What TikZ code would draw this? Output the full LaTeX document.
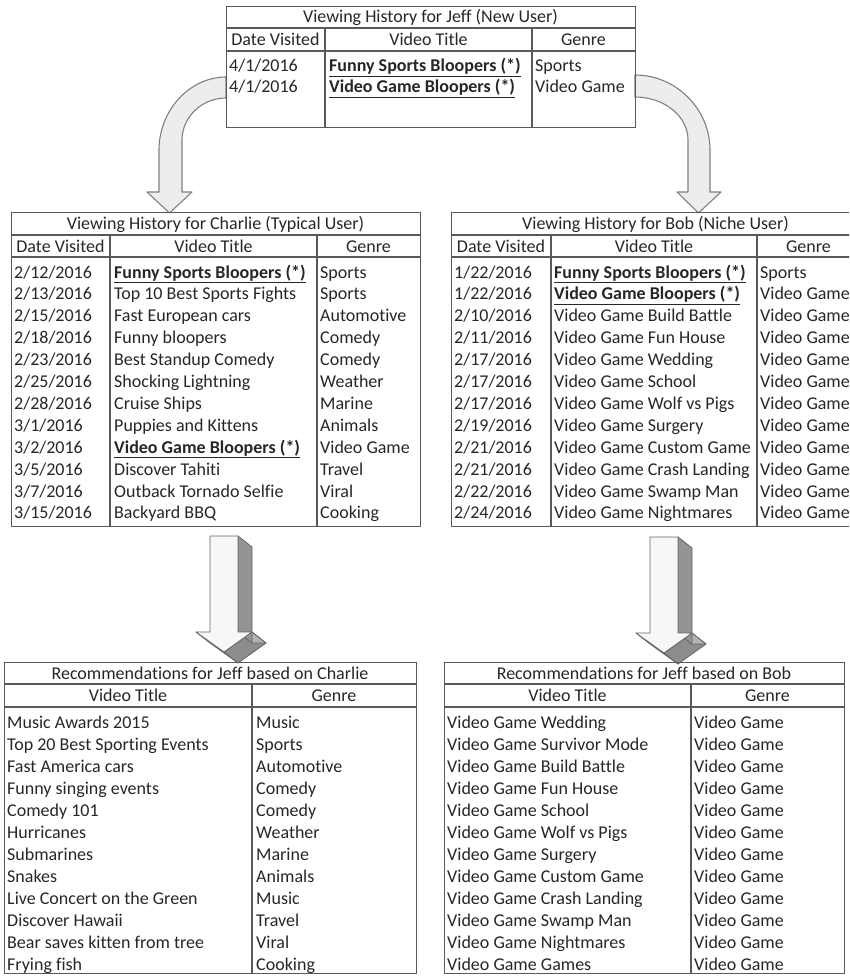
\documentclass[tikz,border=0pt]{standalone}
\usepackage{fontspec}
\setmainfont{Carlito}[Ligatures=NoCommon]

\tikzset{
  tbl/.style={draw=black!65, line width=1.1pt, inner sep=0pt, anchor=north west},
  rule/.style={black!65, line width=1.1pt},
  txt/.style={anchor=base west, inner sep=0pt, text=black!85, font=\fontsize{18}{22}\selectfont},
  hdr/.style={anchor=base, inner sep=0pt, text=black!85, font=\fontsize{18}{22}\selectfont},
  curvearrow/.style={draw=black!50, fill=black!7, line width=1.1pt, line join=round},
  face/.style={draw=black!60, line width=0.8pt, line join=round},
}
\newcommand{\hit}[1]{\underline{\textbf{#1}}}

\begin{document}
\begin{tikzpicture}[x=1pt, y=-1pt]
\useasboundingbox (0,0) rectangle (849,976);
\clip (0,0) rectangle (849,976);

% curved arrows from Jeff
\draw[curvearrow] (226,77) .. controls (190,77) and (159,110) .. (159,150) -- (159,192) -- (147,192) -- (169.5,213) -- (192,192) -- (182,192) -- (182,140) .. controls (182,117) and (202,98) .. (226,98) -- cycle;
\draw[curvearrow] (635,75) .. controls (676,75) and (710,109) .. (710,150) -- (710,192) -- (721,192) -- (698.5,213) -- (677,192) -- (688,192) -- (688,140) .. controls (688,116) and (664,97) .. (635,97) -- cycle;

% Jeff
\node[tbl, minimum width=409pt, minimum height=121pt] (jeff) at (226,6) {};
\draw[rule] (226,28) -- (635,28);
\draw[rule] (226,51) -- (635,51);
\draw[rule] (325,28) -- (325,127);
\draw[rule] (532,28) -- (532,127);
\node[hdr] (jeff-title) at (430.5,23) {Viewing History for Jeff (New User)};
\node[hdr] (jeff-h1) at (275.5,45.5) {Date Visited};
\node[hdr] (jeff-h2) at (428.5,45.5) {Video Title};
\node[hdr] (jeff-h3) at (583.5,45.5) {Genre};
\foreach \d/\t/\g [count=\i] in {
  {4/1/2016}/{\hit{Funny Sports Bloopers (*)}}/Sports,
  {4/1/2016}/{\hit{Video Game Bloopers (*)}}/Video Game} {
  \node[txt] (jeff-d\i) at (229,51+21*\i) {\d};
  \node[txt] (jeff-t\i) at (329,51+21*\i) {\t};
  \node[txt] (jeff-g\i) at (535,51+21*\i) {\g};
}

% Charlie
\node[tbl, minimum width=409pt, minimum height=314pt] (charlie) at (11,212) {};
\draw[rule] (11,235) -- (420,235);
\draw[rule] (11,257) -- (420,257);
\draw[rule] (110,235) -- (110,526);
\draw[rule] (317,235) -- (317,526);
\node[hdr] (charlie-title) at (215.5,229.5) {Viewing History for Charlie (Typical User)};
\node[hdr] (charlie-h1) at (60.5,252) {Date Visited};
\node[hdr] (charlie-h2) at (213.5,252) {Video Title};
\node[hdr] (charlie-h3) at (368.5,252) {Genre};
\foreach \d/\t/\g [count=\i] in {
  {2/12/2016}/{\hit{Funny Sports Bloopers (*)}}/Sports,
  {2/13/2016}/Top 10 Best Sports Fights/Sports,
  {2/15/2016}/Fast European cars/Automotive,
  {2/18/2016}/Funny bloopers/Comedy,
  {2/23/2016}/Best Standup Comedy/Comedy,
  {2/25/2016}/Shocking Lightning/Weather,
  {2/28/2016}/Cruise Ships/Marine,
  {3/1/2016}/Puppies and Kittens/Animals,
  {3/2/2016}/{\hit{Video Game Bloopers (*)}}/Video Game,
  {3/5/2016}/Discover Tahiti/Travel,
  {3/7/2016}/Outback Tornado Selfie/Viral,
  {3/15/2016}/Backyard BBQ/Cooking} {
  \node[txt] (charlie-d\i) at (14,256.1+21.9*\i) {\d};
  \node[txt] (charlie-t\i) at (114,256.1+21.9*\i) {\t};
  \node[txt] (charlie-g\i) at (320,256.1+21.9*\i) {\g};
}

% Bob
\node[tbl, minimum width=409pt, minimum height=314pt] (bob) at (451,212) {};
\draw[rule] (451,235) -- (860,235);
\draw[rule] (451,257) -- (860,257);
\draw[rule] (551,235) -- (551,526);
\draw[rule] (757,235) -- (757,526);
\node[hdr] (bob-title) at (655.5,229.5) {Viewing History for Bob (Niche User)};
\node[hdr] (bob-h1) at (501,252) {Date Visited};
\node[hdr] (bob-h2) at (654,252) {Video Title};
\node[hdr] (bob-h3) at (808.5,252) {Genre};
\foreach \d/\t/\g [count=\i] in {
  {1/22/2016}/{\hit{Funny Sports Bloopers (*)}}/Sports,
  {1/22/2016}/{\hit{Video Game Bloopers (*)}}/Video Game,
  {2/10/2016}/Video Game Build Battle/Video Game,
  {2/11/2016}/Video Game Fun House/Video Game,
  {2/17/2016}/Video Game Wedding/Video Game,
  {2/17/2016}/Video Game School/Video Game,
  {2/17/2016}/Video Game Wolf vs Pigs/Video Game,
  {2/19/2016}/Video Game Surgery/Video Game,
  {2/21/2016}/Video Game Custom Game/Video Game,
  {2/21/2016}/Video Game Crash Landing/Video Game,
  {2/22/2016}/Video Game Swamp Man/Video Game,
  {2/24/2016}/Video Game Nightmares/Video Game} {
  \node[txt] (bob-d\i) at (454,256.1+21.9*\i) {\d};
  \node[txt] (bob-t\i) at (554,256.1+21.9*\i) {\t};
  \node[txt] (bob-g\i) at (760,256.1+21.9*\i) {\g};
}

% 3-D arrows
\foreach \dx/\dy in {0/0, 440/1} {
  \begin{scope}[shift={(\dx,\dy)}]
    \filldraw[face, fill=black!62] (196,632) -- (210,643) -- (238,663) -- (224,652) -- cycle;
    \filldraw[face, fill=black!45] (252,632) -- (266,643) -- (238,663) -- (224,652) -- cycle;
    \filldraw[face, fill=black!30] (238,632) -- (252,632) -- (266,643) -- (252,643) -- cycle;
    \filldraw[face, fill=black!42] (238,536) -- (252,547) -- (252,643) -- (238,632) -- cycle;
    \filldraw[face, fill=black!3] (210,536) -- (238,536) -- (238,632) -- (252,632) -- (224,652) -- (196,632) -- (210,632) -- cycle;
  \end{scope}
}

% recommendations based on Charlie
\node[tbl, minimum width=412pt, minimum height=311pt] (recCharlie) at (4,662) {};
\draw[rule] (4,684) -- (416,684);
\draw[rule] (4,707) -- (416,707);
\draw[rule] (252,684) -- (252,973);
\node[hdr] (recCharlie-title) at (210,679) {Recommendations for Jeff based on Charlie};
\node[hdr] (recCharlie-h1) at (128,701.5) {Video Title};
\node[hdr] (recCharlie-h2) at (334,701.5) {Genre};
\foreach \t/\g [count=\i] in {
  Music Awards 2015/Music,
  Top 20 Best Sporting Events/Sports,
  Fast America cars/Automotive,
  Funny singing events/Comedy,
  Comedy 101/Comedy,
  Hurricanes/Weather,
  Submarines/Marine,
  Snakes/Animals,
  Live Concert on the Green/Music,
  Discover Hawaii/Travel,
  Bear saves kitten from tree/Viral,
  Frying fish/Cooking} {
  \node[txt] (recCharlie-t\i) at (7,706+22*\i) {\t};
  \node[txt] (recCharlie-g\i) at (256,706+22*\i) {\g};
}

% recommendations based on Bob
\node[tbl, minimum width=400pt, minimum height=311pt] (recBob) at (444,662) {};
\draw[rule] (444,684) -- (844,684);
\draw[rule] (444,707) -- (844,707);
\draw[rule] (691,684) -- (691,973);
\node[hdr] (recBob-title) at (644,679) {Recommendations for Jeff based on Bob};
\node[hdr] (recBob-h1) at (567.5,701.5) {Video Title};
\node[hdr] (recBob-h2) at (767.5,701.5) {Genre};
\foreach \t [count=\i] in {
  Video Game Wedding, Video Game Survivor Mode, Video Game Build Battle,
  Video Game Fun House, Video Game School, Video Game Wolf vs Pigs,
  Video Game Surgery, Video Game Custom Game, Video Game Crash Landing,
  Video Game Swamp Man, Video Game Nightmares, Video Game Games} {
  \node[txt] (recBob-t\i) at (447,706+22*\i) {\t};
  \node[txt] (recBob-g\i) at (694,706+22*\i) {Video Game};
}
\end{tikzpicture}
\end{document}
